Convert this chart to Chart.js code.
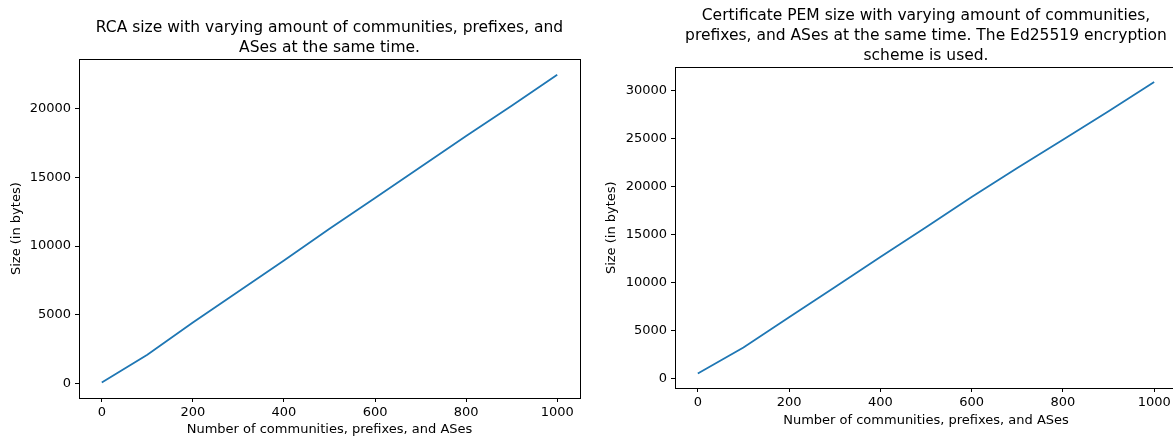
<!DOCTYPE html>
<html>
<head>
<meta charset="utf-8">
<script src="https://cdn.jsdelivr.net/npm/chart.js@4"></script>
<style>
  html, body { margin: 0; padding: 0; background: #fff; overflow: hidden; }
  body { width: 1173px; height: 437px; position: relative; }
  canvas { position: absolute; top: 0; }
  #rcaChart { left: 0; }
  #pemChart { left: 590px; }
</style>
</head>
<body>
<canvas id="rcaChart" width="659" height="437"></canvas>
<canvas id="pemChart" width="672" height="437"></canvas>
<script>
'use strict';

// x values: number of communities, prefixes and ASes
const counts = [0, 100, 200, 300, 400, 500, 600, 700, 800, 900, 1000];

// RCA size (bytes)
const rcaSizes = [80, 2100, 4450, 6700, 8950, 11250, 13500, 15750, 18000, 20200, 22450];

// Certificate PEM size, Ed25519 (bytes)
const pemSizes = [550, 3250, 6400, 9500, 12650, 15750, 18900, 21900, 24850, 27800, 30850];

const xTicks = [0, 200, 400, 600, 800, 1000];
const rcaYTicks = [0, 5000, 10000, 15000, 20000];
const pemYTicks = [0, 5000, 10000, 15000, 20000, 25000, 30000];

const rcaTitle = ['RCA size with varying amount of communities, prefixes, and', 'ASes at the same time.'];
const pemTitle = ['Certificate PEM size with varying amount of communities,',
                  'prefixes, and ASes at the same time. The Ed25519 encryption',
                  'scheme is used.'];
const xLabel = 'Number of communities, prefixes, and ASes';
const yLabel = 'Size (in bytes)';

/* ── helpers ───────────────────────────── */
const FONT = 'DejaVu Sans';
const lineBlue = '#1f77b4';

// matplotlib style 5% margins around the data
function padded(values) {
    const lo = Math.min(...values), hi = Math.max(...values);
    const m = (hi - lo) * 0.05;
    return { min: lo - m, max: hi + m };
}

// full black box round the plot area
const framePlugin = {
    id: 'frame',
    afterDraw(chart) {
        const a = chart.chartArea, ctx = chart.ctx;
        ctx.save();
        ctx.strokeStyle = '#000';
        ctx.lineWidth = 1;
        ctx.strokeRect(Math.round(a.left) + 0.5, Math.round(a.top) + 0.5,
                       Math.round(a.right - a.left), Math.round(a.bottom - a.top));
        ctx.restore();
    }
};

function makeChart(id, values, yTicks, title, cfg) {
    const xr = padded(counts);
    const yr = padded(values);
    return new Chart(document.getElementById(id), {
        type: 'line',
        data: {
            datasets: [{
                data: counts.map((c, i) => ({ x: c, y: values[i] })),
                borderColor: lineBlue,
                borderWidth: 1.8,
                pointRadius: 0,
                tension: 0,
                fill: false
            }]
        },
        options: {
            responsive: false,
            devicePixelRatio: 1,
            animation: false,
            layout: { padding: 0 },
            plugins: {
                legend: { display: false },
                tooltip: { enabled: false },
                title: {
                    display: true,
                    text: title,
                    color: '#000',
                    font: { family: FONT, size: 15.5, weight: 'normal', lineHeight: 1.3 },
                    padding: { top: cfg.titleTop, bottom: cfg.titleBottom }
                }
            },
            scales: {
                x: {
                    type: 'linear',
                    min: xr.min, max: xr.max,
                    afterBuildTicks: (s) => { s.ticks = xTicks.map(v => ({ value: v })); },
                    afterFit: (s) => { s.height = cfg.xHeight; },
                    grid: { drawOnChartArea: false, drawTicks: true, tickLength: 4, tickColor: '#000', color: '#000' },
                    border: { display: false },
                    ticks: { color: '#000', font: { family: FONT, size: 13 }, padding: 3, maxRotation: 0,
                             callback: (v) => String(v) },
                    title: { display: true, text: xLabel, color: '#000',
                             font: { family: FONT, size: 13 }, padding: { top: 0, bottom: cfg.xTitleBottom } }
                },
                y: {
                    type: 'linear',
                    min: yr.min, max: yr.max,
                    afterBuildTicks: (s) => { s.ticks = yTicks.map(v => ({ value: v })); },
                    afterFit: (s) => { s.width = cfg.yWidth; },
                    grid: { drawOnChartArea: false, drawTicks: true, tickLength: 4, tickColor: '#000', color: '#000' },
                    border: { display: false },
                    ticks: { color: '#000', font: { family: FONT, size: 13 }, padding: 4,
                             callback: (v) => String(v) },
                    title: { display: true, text: yLabel, color: '#000',
                             font: { family: FONT, size: 13 }, padding: { top: cfg.yTitleTop, bottom: 0 } }
                },
                // empty right-hand strip so the title centres over the plot box
                spacer: {
                    type: 'linear',
                    position: 'right',
                    display: true,
                    afterFit: (s) => { s.width = cfg.padRight; },
                    grid: { display: false },
                    border: { display: false },
                    ticks: { display: false }
                }
            }
        },
        plugins: [framePlugin]
    });
}

makeChart('rcaChart', rcaSizes, rcaYTicks, rcaTitle, {
    padRight: 79, yWidth: 79, xHeight: 39,
    titleTop: 18, titleBottom: 1, xTitleBottom: 0, yTitleTop: 9
});

makeChart('pemChart', pemSizes, pemYTicks, pemTitle, {
    padRight: 85, yWidth: 85, xHeight: 49,
    titleTop: 6, titleBottom: 1, xTitleBottom: 9, yTitleTop: 14
});
</script>
</body>
</html>
